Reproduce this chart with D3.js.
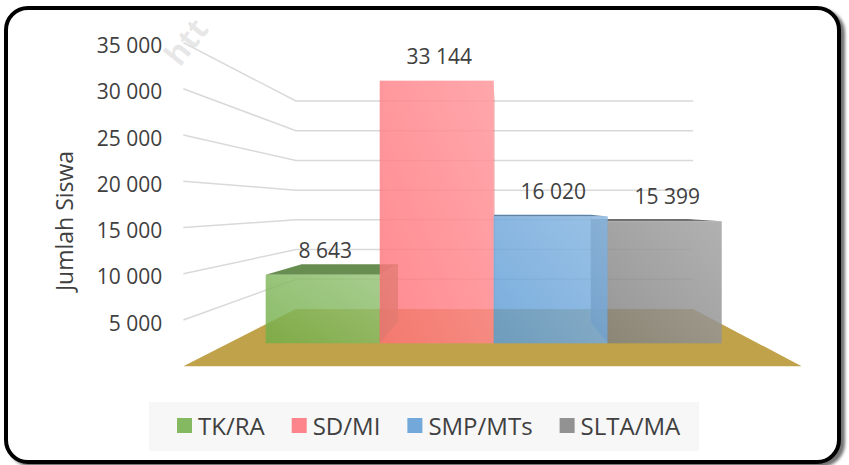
<!DOCTYPE html>
<html>
<head>
<meta charset="utf-8">
<script src="https://cdn.jsdelivr.net/npm/d3@7/dist/d3.min.js"></script>
<style>
body { margin: 0; background: #fff; }
text { font-family: "Open Sans", sans-serif; fill: #404040; }
</style>
</head>
<body>
<svg id="chart" width="849" height="465"></svg>
<script>
// data
var categories = ["TK/RA", "SD/MI", "SMP/MTs", "SLTA/MA"];
var siswa = [8643, 33144, 16020, 15399];
var colors = ["#70ad47", "#ff7078", "#5b9bd5", "#808080"];
var tickValues = [5000, 10000, 15000, 20000, 25000, 30000, 35000];
var axisTitle = "Jumlah Siswa";

var svg = d3.select("#chart");
var fmt = d3.formatLocale({decimal: ",", thousands: " ", grouping: [3], currency: ["", ""]}).format(",d");

// simple perspective: points move toward the vanishing point as depth grows
var vp = [498, 206];
var dFrontWall = 1.1675, dBarFront = 1, dBarBack = 0.845, dBackWall = 0.75;
function proj(wx, wy, s) {
    return [vp[0] + (wx - vp[0]) * s, vp[1] + (wy - vp[1]) * s];
}

var x = d3.scaleBand().domain(categories).range([265.7, 721.7]).padding(0);
var y = d3.scaleLinear().domain([0, 35000]).range([343.3, 66]);
var wallLeft = 228.5, wallRight = 758.1;

var defs = svg.append("defs");
var sh = defs.append("filter").attr("id", "shadow")
    .attr("x", "-5%").attr("y", "-5%").attr("width", "110%").attr("height", "110%");
sh.append("feDropShadow").attr("dx", 4).attr("dy", 3).attr("stdDeviation", 1.5)
    .attr("flood-color", "#000").attr("flood-opacity", 0.55);

var sheen = defs.append("linearGradient").attr("id", "sheen")
    .attr("x1", 0).attr("y1", 1).attr("x2", 1).attr("y2", 0);
sheen.append("stop").attr("offset", "0%").attr("stop-color", "#fff").attr("stop-opacity", 0);
sheen.append("stop").attr("offset", "100%").attr("stop-color", "#fff").attr("stop-opacity", 0.25);

// frame
svg.append("rect")
    .attr("x", 6).attr("y", 8).attr("width", 833).attr("height", 454)
    .attr("rx", 22).attr("ry", 22)
    .attr("fill", "#fff").attr("stroke", "#000").attr("stroke-width", 4)
    .attr("filter", "url(#shadow)");

// faint watermark at the top
svg.append("text")
    .attr("transform", "translate(180,68) rotate(-52)")
    .style("font-size", "32px")
    .style("font-weight", "bold")
    .style("fill", "#000")
    .style("fill-opacity", 0.1)
    .text("htt");

// gridlines on the side and back walls
var line = d3.line();
svg.append("g").selectAll("path")
    .data(tickValues)
    .enter().append("path")
    .attr("d", function (v) {
        return line([
            proj(wallLeft, y(v), dFrontWall),
            proj(wallLeft, y(v), dBackWall),
            proj(wallRight, y(v), dBackWall)
        ]);
    })
    .attr("fill", "none").attr("stroke", "#d9d9d9").attr("stroke-width", 1.5);

// tick labels
svg.append("g").selectAll("text")
    .data(tickValues)
    .enter().append("text")
    .attr("x", function (v) { return proj(wallLeft, y(v), dFrontWall)[0] - 21; })
    .attr("y", function (v) { return proj(wallLeft, y(v), dFrontWall)[1] + 2.5; })
    .attr("text-anchor", "end")
    .attr("dominant-baseline", "central")
    .style("font-size", "21px")
    .text(function (v) { return fmt(v); });

// axis title
svg.append("text")
    .attr("transform", "translate(64,221) rotate(-90)")
    .attr("text-anchor", "middle")
    .attr("dominant-baseline", "central")
    .style("font-size", "23px")
    .text(axisTitle);

// floor
svg.append("path")
    .attr("d", line([
        proj(wallLeft, y(0), dFrontWall),
        proj(wallRight, y(0), dFrontWall),
        proj(wallRight, y(0), dBackWall),
        proj(wallLeft, y(0), dBackWall)
    ]) + "Z")
    .attr("fill", "#c0a24b");

var bars = categories.map(function (c, i) {
    return {cat: c, value: siswa[i], color: colors[i]};
});

// tops and sides that face the viewer go first
var faces = svg.append("g");
bars.forEach(function (d) {
    var x0 = x(d.cat), x1 = x0 + x.bandwidth(), yt = y(d.value), yb = y(0);
    var base = d3.color(d.color);
    if (yt > vp[1]) {
        faces.append("path")
            .attr("d", line([proj(x0, yt, dBarFront), proj(x1, yt, dBarFront),
                proj(x1, yt, dBarBack), proj(x0, yt, dBarBack)]) + "Z")
            .attr("fill", base.darker(1)).attr("fill-opacity", 0.85);
    }
    if (x1 < vp[0]) {
        faces.append("path")
            .attr("d", line([proj(x1, yt, dBarFront), proj(x1, yb, dBarFront),
                proj(x1, yb, dBarBack), proj(x1, yt, dBarBack)]) + "Z")
            .attr("fill", base.darker(0.5)).attr("fill-opacity", 0.82);
    }
    if (x0 > vp[0]) {
        faces.append("path")
            .attr("d", line([proj(x0, yt, dBarFront), proj(x0, yb, dBarFront),
                proj(x0, yb, dBarBack), proj(x0, yt, dBarBack)]) + "Z")
            .attr("fill", base.darker(0.5)).attr("fill-opacity", 0.82);
    }
});

// front faces
var fronts = svg.append("g").selectAll("g")
    .data(bars)
    .enter().append("g");
fronts.append("rect")
    .attr("x", function (d) { return x(d.cat); })
    .attr("y", function (d) { return y(d.value); })
    .attr("width", x.bandwidth())
    .attr("height", function (d) { return y(0) - y(d.value); })
    .attr("fill", function (d) { return d.color; })
    .attr("fill-opacity", 0.82);
fronts.append("rect")
    .attr("x", function (d) { return x(d.cat); })
    .attr("y", function (d) { return y(d.value); })
    .attr("width", x.bandwidth())
    .attr("height", function (d) { return y(0) - y(d.value); })
    .attr("fill", "url(#sheen)");

// value labels
svg.append("g").selectAll("text")
    .data(bars)
    .enter().append("text")
    .attr("x", function (d) { return x(d.cat) + x.bandwidth() / 2 + 2.5; })
    .attr("y", function (d) { return y(d.value) - 25; })
    .attr("text-anchor", "middle")
    .attr("dominant-baseline", "central")
    .style("font-size", "21px")
    .text(function (d) { return fmt(d.value); });

// legend
svg.append("rect")
    .attr("x", 149).attr("y", 402).attr("width", 550).attr("height", 49)
    .attr("fill", "#f7f7f7");
var lx = 177;
bars.forEach(function (d) {
    svg.append("rect")
        .attr("x", lx).attr("y", 418).attr("width", 15).attr("height", 15)
        .attr("fill", d.color).attr("fill-opacity", 0.85);
    var t = svg.append("text")
        .attr("x", lx + 21).attr("y", 425.5)
        .attr("dominant-baseline", "central")
        .style("font-size", "24px")
        .text(d.cat);
    lx += 21 + t.node().getComputedTextLength() + 27;
});
</script>
</body>
</html>
